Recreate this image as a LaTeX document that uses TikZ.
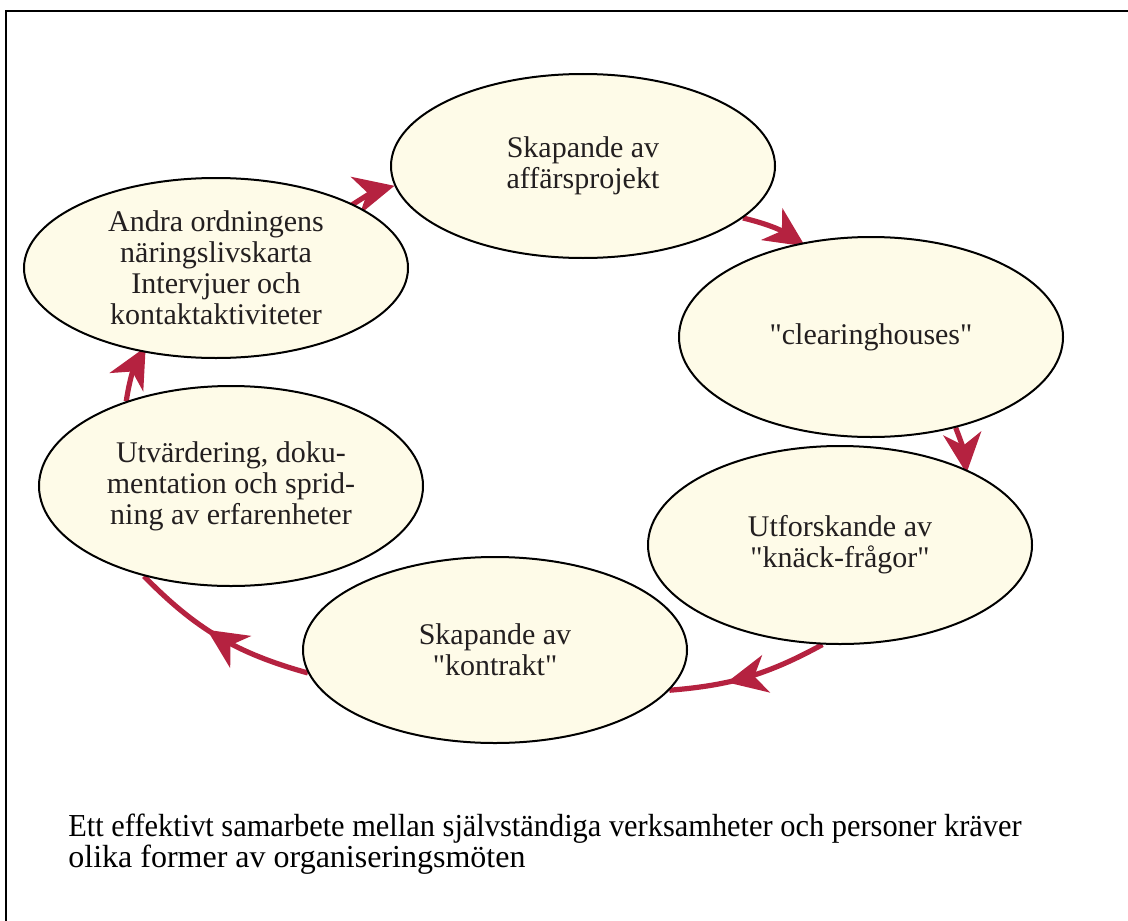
\documentclass[tikz,border=0pt]{standalone}
\usepackage{fontspec}
\setmainfont{Liberation Serif}
\usetikzlibrary{
    shapes.geometric,
    arrows.meta,
    decorations.markings
}
\definecolor{cream}{RGB}{254,251,232}
\definecolor{crimson}{RGB}{181,34,64}
\definecolor{inktext}{RGB}{35,31,32}
\pgfdeclarelayer{behind}
\pgfsetlayers{behind,main}
\newcommand{\qq}{\textquotedbl}
\tikzset{
    phase/.style={ellipse, draw=black, line width=1pt, fill=cream, inner sep=0pt,
        minimum width=192pt, align=center, text=inktext,
        font=\fontsize{15}{15.5}\selectfont},
    cyclearrow/.style={color=crimson, line width=2.6pt,
        -{Stealth[length=20pt,width=19pt,inset=6pt]}},
    midarrow/.style={color=crimson, line width=2.6pt, postaction=decorate,
        decoration={markings, mark=at position #1 with
            {\arrow{Stealth[length=20pt,width=19pt,inset=6pt]}}}}
}

\begin{document}
\begin{tikzpicture}[x=0.5pt,y=-0.5pt]
                        \clip (0,0) rectangle (1128,920);
                        \draw[line width=1.25pt] (6,940) -- (6,11) -- (1140,11);

                        \node[phase, minimum height=92pt] (proj) at (583,166) {Skapande av\\affärsprojekt};
                        \node[phase, minimum height=100pt] (clear) at (871,337) {\qq clearinghouses\qq};
                        \node[phase, minimum height=99pt] (knack) at (840,545) {Utforskande av\\\qq knäck-frågor\qq};
                        \node[phase, minimum height=93pt] (kontr) at (495,650) {Skapande av\\\qq kontrakt\qq};
                        \node[phase, minimum height=100pt] (utv) at (231,486) {Utvärdering, doku-\\mentation och sprid-\\ning av erfarenheter};
                        \node[phase, minimum height=90pt] (karta) at (216,268) {Andra ordningens\\näringslivskarta\\Intervjuer och\\kontaktaktiviteter};

                        \node[anchor=north west, inner sep=0pt, align=left,
                            font=\fontsize{16}{15.5}\selectfont] (caption) at (68,814)
                            {\scalebox{0.95}[1]{Ett effektivt samarbete mellan självständiga verksamheter och personer kräver}\\olika former av organiseringsmöten};

                        \begin{pgfonlayer}{behind}
                        \draw[cyclearrow, shorten <=-6pt] (karta.25) to[bend left=10] (proj.186);
                        \draw[cyclearrow, shorten >=-3pt] (proj.-18) to[bend left=10] (clear.127);
                        \draw[cyclearrow, shorten >=-2pt] (clear.-47) to[bend left=8] (knack.31);
                        \draw[midarrow=0.64] (knack.-100) to[bend left=12] (kontr.-13);
                        \draw[midarrow=0.57] (kontr.187) to[bend left=15] (utv.226);
                        \draw[cyclearrow, shorten >=-3pt] (utv.141) to[bend left=10] (karta.229);
                        \end{pgfonlayer}
                    \end{tikzpicture}
\end{document}
